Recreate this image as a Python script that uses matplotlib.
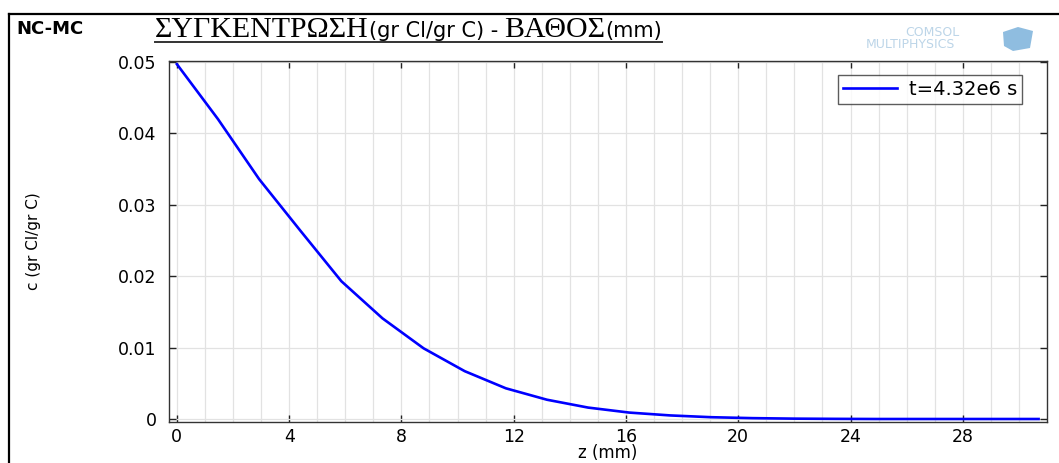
import matplotlib
matplotlib.use("Agg")
import matplotlib.pyplot as plt
from matplotlib.lines import Line2D
from matplotlib.patches import Polygon

# Données
z_mm = [0, 1.465, 2.93, 4.395, 5.86, 7.325, 8.79, 10.255, 11.72, 13.185, 14.65,
        16.115, 17.58, 19.045, 20.51, 21.975, 23.44, 24.905, 26.37, 27.835, 29.3, 30.7]
conc = [0.0497, 0.0420, 0.0336, 0.0264, 0.0193, 0.0141, 0.0099, 0.0067, 0.0043,
        0.0027, 0.0016, 0.0009, 0.0005, 0.00025, 0.00012, 0.00005, 0.00002,
        0.0, 0.0, 0.0, 0.0, 0.0]
legende = "t=4.32e6 s"
xticks = [0, 4, 8, 12, 16, 20, 24, 28]
yticks = [0, 0.01, 0.02, 0.03, 0.04, 0.05]

W, H = 1059, 463
fig = plt.figure(figsize=(W / 100, H / 100), dpi=100)

# Cadre noir autour de la figure
fig.add_artist(Line2D([9 / W, 9 / W], [0, 1 - 14 / H], color='black', lw=1.6,
                      transform=fig.transFigure))
fig.add_artist(Line2D([9 / W, 1], [1 - 14 / H, 1 - 14 / H], color='black', lw=1.6,
                      transform=fig.transFigure))

ax = fig.add_axes([169 / W, 1 - 422 / H, (1047 - 169) / W, (422 - 61) / H])
ax.plot(z_mm, conc, color='#0000ff', lw=1.9, label=legende)

ax.set_xlim(-0.28, 31.0)
ax.set_ylim(-0.00042, 0.05014)
ax.set_xticks(xticks)
ax.set_xticklabels([str(t) for t in xticks])
ax.set_yticks(yticks)
ax.set_yticklabels(['0', '0.01', '0.02', '0.03', '0.04', '0.05'])
ax.set_xticks(range(0, 31), minor=True)
ax.tick_params(which='major', direction='in', top=True, right=True, length=5,
               width=1, color='#222222', labelsize=12.5)
ax.tick_params(axis='y', pad=9)
ax.tick_params(axis='x', pad=4)
ax.tick_params(which='minor', length=0, top=True)
ax.grid(True, which='both', axis='x', color='#e2e2e2', lw=0.9)
ax.grid(True, which='major', axis='y', color='#e2e2e2', lw=0.9)
ax.set_axisbelow(True)
for s in ax.spines.values():
    s.set_color('#333333')
    s.set_linewidth(1.0)

ax.set_xlabel('z (mm)', fontsize=12)
ax.xaxis.set_label_coords(0.5, -(453 - 422) / (422 - 61))
ax.xaxis.label.set_va('center')
ax.set_ylabel('c (gr Cl/gr C)', fontsize=11)
ax.yaxis.set_label_coords(-128 / (1047 - 169), 0.5)

leg = ax.legend(loc='upper right', bbox_to_anchor=(1022 / W, 1 - 75 / H),
                bbox_transform=fig.transFigure, fontsize=14, frameon=True,
                fancybox=False, edgecolor='#333333', handlelength=2.8,
                borderpad=0.25, handletextpad=0.6, borderaxespad=0)
leg.get_frame().set_linewidth(1.0)

# Titre (morceaux serif / sans)
fig.text(16 / W, 1 - 29 / H, 'NC-MC', fontsize=13, fontweight='bold',
         va='center', ha='left')
renderer = fig.canvas.get_renderer()
morceaux = [('ΣΥΓΚΕΝΤΡΩΣΗ', 'Liberation Serif', 21.5),
            ('(gr Cl/gr C) - ', 'DejaVu Sans', 15),
            ('ΒΑΘΟΣ', 'Liberation Serif', 21.5),
            ('(mm)', 'DejaVu Sans', 15)]
x = 155
for txt, fam, fs in morceaux:
    t = fig.text(x / W, 1 - 37 / H, txt, fontsize=fs, family=fam,
                 va='baseline', ha='left')
    bb = t.get_window_extent(renderer)
    x += bb.width
fig.add_artist(Line2D([155 / W, x / W], [1 - 42 / H, 1 - 42 / H], color='#333333',
                      lw=1.4, transform=fig.transFigure))

# Logo COMSOL
fig.text(932 / W, 1 - 33 / H, 'COMSOL', fontsize=9, color='#bcd5e8',
         ha='center', va='center')
fig.text(910 / W, 1 - 44 / H, 'MULTIPHYSICS', fontsize=9, color='#bcd5e8',
         ha='center', va='center')
cube = Polygon([[1003 / W, 1 - 32 / H], [1018 / W, 1 - 27 / H], [1033 / W, 1 - 31 / H],
                [1030 / W, 1 - 48 / H], [1013 / W, 1 - 51 / H], [1004 / W, 1 - 46 / H]],
               closed=True, transform=fig.transFigure, facecolor='#8fbde0',
               edgecolor='none')
fig.add_artist(cube)

fig.savefig('out.png', dpi=100)
